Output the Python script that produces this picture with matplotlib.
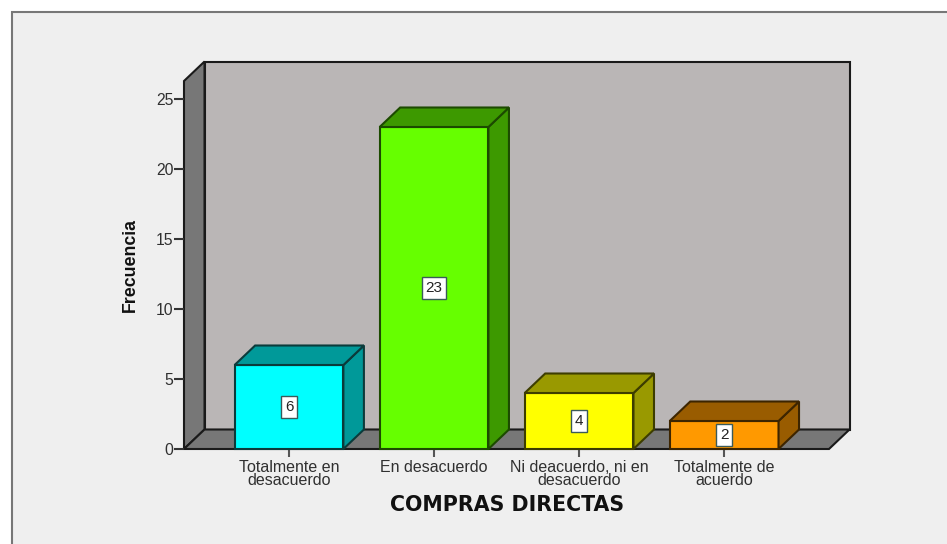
import matplotlib
matplotlib.use("Agg")
import matplotlib.pyplot as plt
from matplotlib.patches import Polygon, Rectangle

categories = ["Totalmente en\ndesacuerdo", "En desacuerdo",
              "Ni deacuerdo, ni en\ndesacuerdo", "Totalmente de\nacuerdo"]
freq = [6, 23, 4, 2]
front_colors = ["#00ffff", "#66ff00", "#ffff00", "#ff9900"]
side_colors = ["#009999", "#3d9900", "#999900", "#995c00"]
edge_colors = ["#0b3b3b", "#1c4a00", "#3d3d00", "#3d2500"]
y_ticks = [0, 5, 10, 15, 20, 25]

W, H = 947, 544
plt.rcParams['font.family'] = ['Liberation Sans', 'DejaVu Sans']

fig = plt.figure(figsize=(W / 100, H / 100), dpi=100, facecolor="white")

# panel behind the chart, open on the right and at the bottom
fig.add_artist(Rectangle((12 / W, -0.05), 1.05, 1.05 - 11.5 / H, transform=fig.transFigure,
                         fc="#efefef", ec="#777777", lw=1.5, zorder=-1))

left, right, top, bottom = 184, 829, 81, 449
ax = fig.add_axes([left / W, 1 - bottom / H, (right - left) / W, (bottom - top) / H])
ax.set_xlim(-0.724, 3.723)
ax.set_ylim(0, (bottom - top) / 14)
ax.patch.set_visible(False)
for s in ax.spines.values():
    s.set_visible(False)

xmin, xmax = ax.get_xlim()
ymin, ymax = ax.get_ylim()
# depth of the fake 3D box, in data units
dx = 20.5 / 145
dy = 19.5 / 14
line = "#1a1a1a"


def poly(pts, fc, ec=line, z=1):
    ax.add_patch(Polygon(pts, closed=True, fc=fc, ec=ec, lw=1.5, zorder=z,
                         clip_on=False, joinstyle="miter"))


# walls
poly([(xmin + dx, ymin + dy), (xmax + dx, ymin + dy), (xmax + dx, ymax + dy), (xmin + dx, ymax + dy)], "#bab6b6")
poly([(xmin, ymin), (xmin + dx, ymin + dy), (xmin + dx, ymax + dy), (xmin, ymax)], "#777777")
poly([(xmin, ymin), (xmax, ymin), (xmax + dx, ymin + dy), (xmin + dx, ymin + dy)], "#777777")

bar_w = 0.75
for i, v in enumerate(freq):
    x0 = i - bar_w / 2
    x1 = i + bar_w / 2
    poly([(x0, 0), (x1, 0), (x1, v), (x0, v)], front_colors[i], edge_colors[i], 3)
    poly([(x1, 0), (x1 + dx, dy), (x1 + dx, v + dy), (x1, v)], side_colors[i], edge_colors[i], 3)
    poly([(x0, v), (x1, v), (x1 + dx, v + dy), (x0 + dx, v + dy)], side_colors[i], edge_colors[i], 3)
    ax.text(i, v / 2, str(v), ha="center", va="center", fontsize=11, color="#222222", zorder=5,
            bbox=dict(boxstyle="square,pad=0.25", fc="white", ec="#3a5a5a", lw=1))

ax.set_xticks(range(len(categories)))
ax.set_xticklabels(categories, fontsize=11.5, color="#303030", linespacing=0.86)
ax.set_yticks(y_ticks)
ax.set_yticklabels([str(t) for t in y_ticks], fontsize=11.3, color="#303030")
ax.tick_params(axis="x", length=5.8, width=1.5, color="#555555", pad=2)
ax.tick_params(axis="y", length=7.2, width=1.5, color="#333333", pad=0.5)

ax.set_xlabel("COMPRAS DIRECTAS", fontsize=14.8, fontweight="bold", color="#111111",
              family=["DejaVu Sans"])
ax.xaxis.set_label_coords((507 - left) / (right - left), -(505 - bottom) / (bottom - top),
                          transform=ax.transAxes)
ax.xaxis.label.set_va("center")
ax.set_ylabel("Frecuencia", fontsize=12.8, fontweight="bold", color="#111111")
ax.yaxis.set_label_coords(-(184 - 130) / (right - left), (449 - 264.5) / (bottom - top),
                          transform=ax.transAxes)
ax.yaxis.label.set_va("center")

fig.savefig("out.png", dpi=100)
